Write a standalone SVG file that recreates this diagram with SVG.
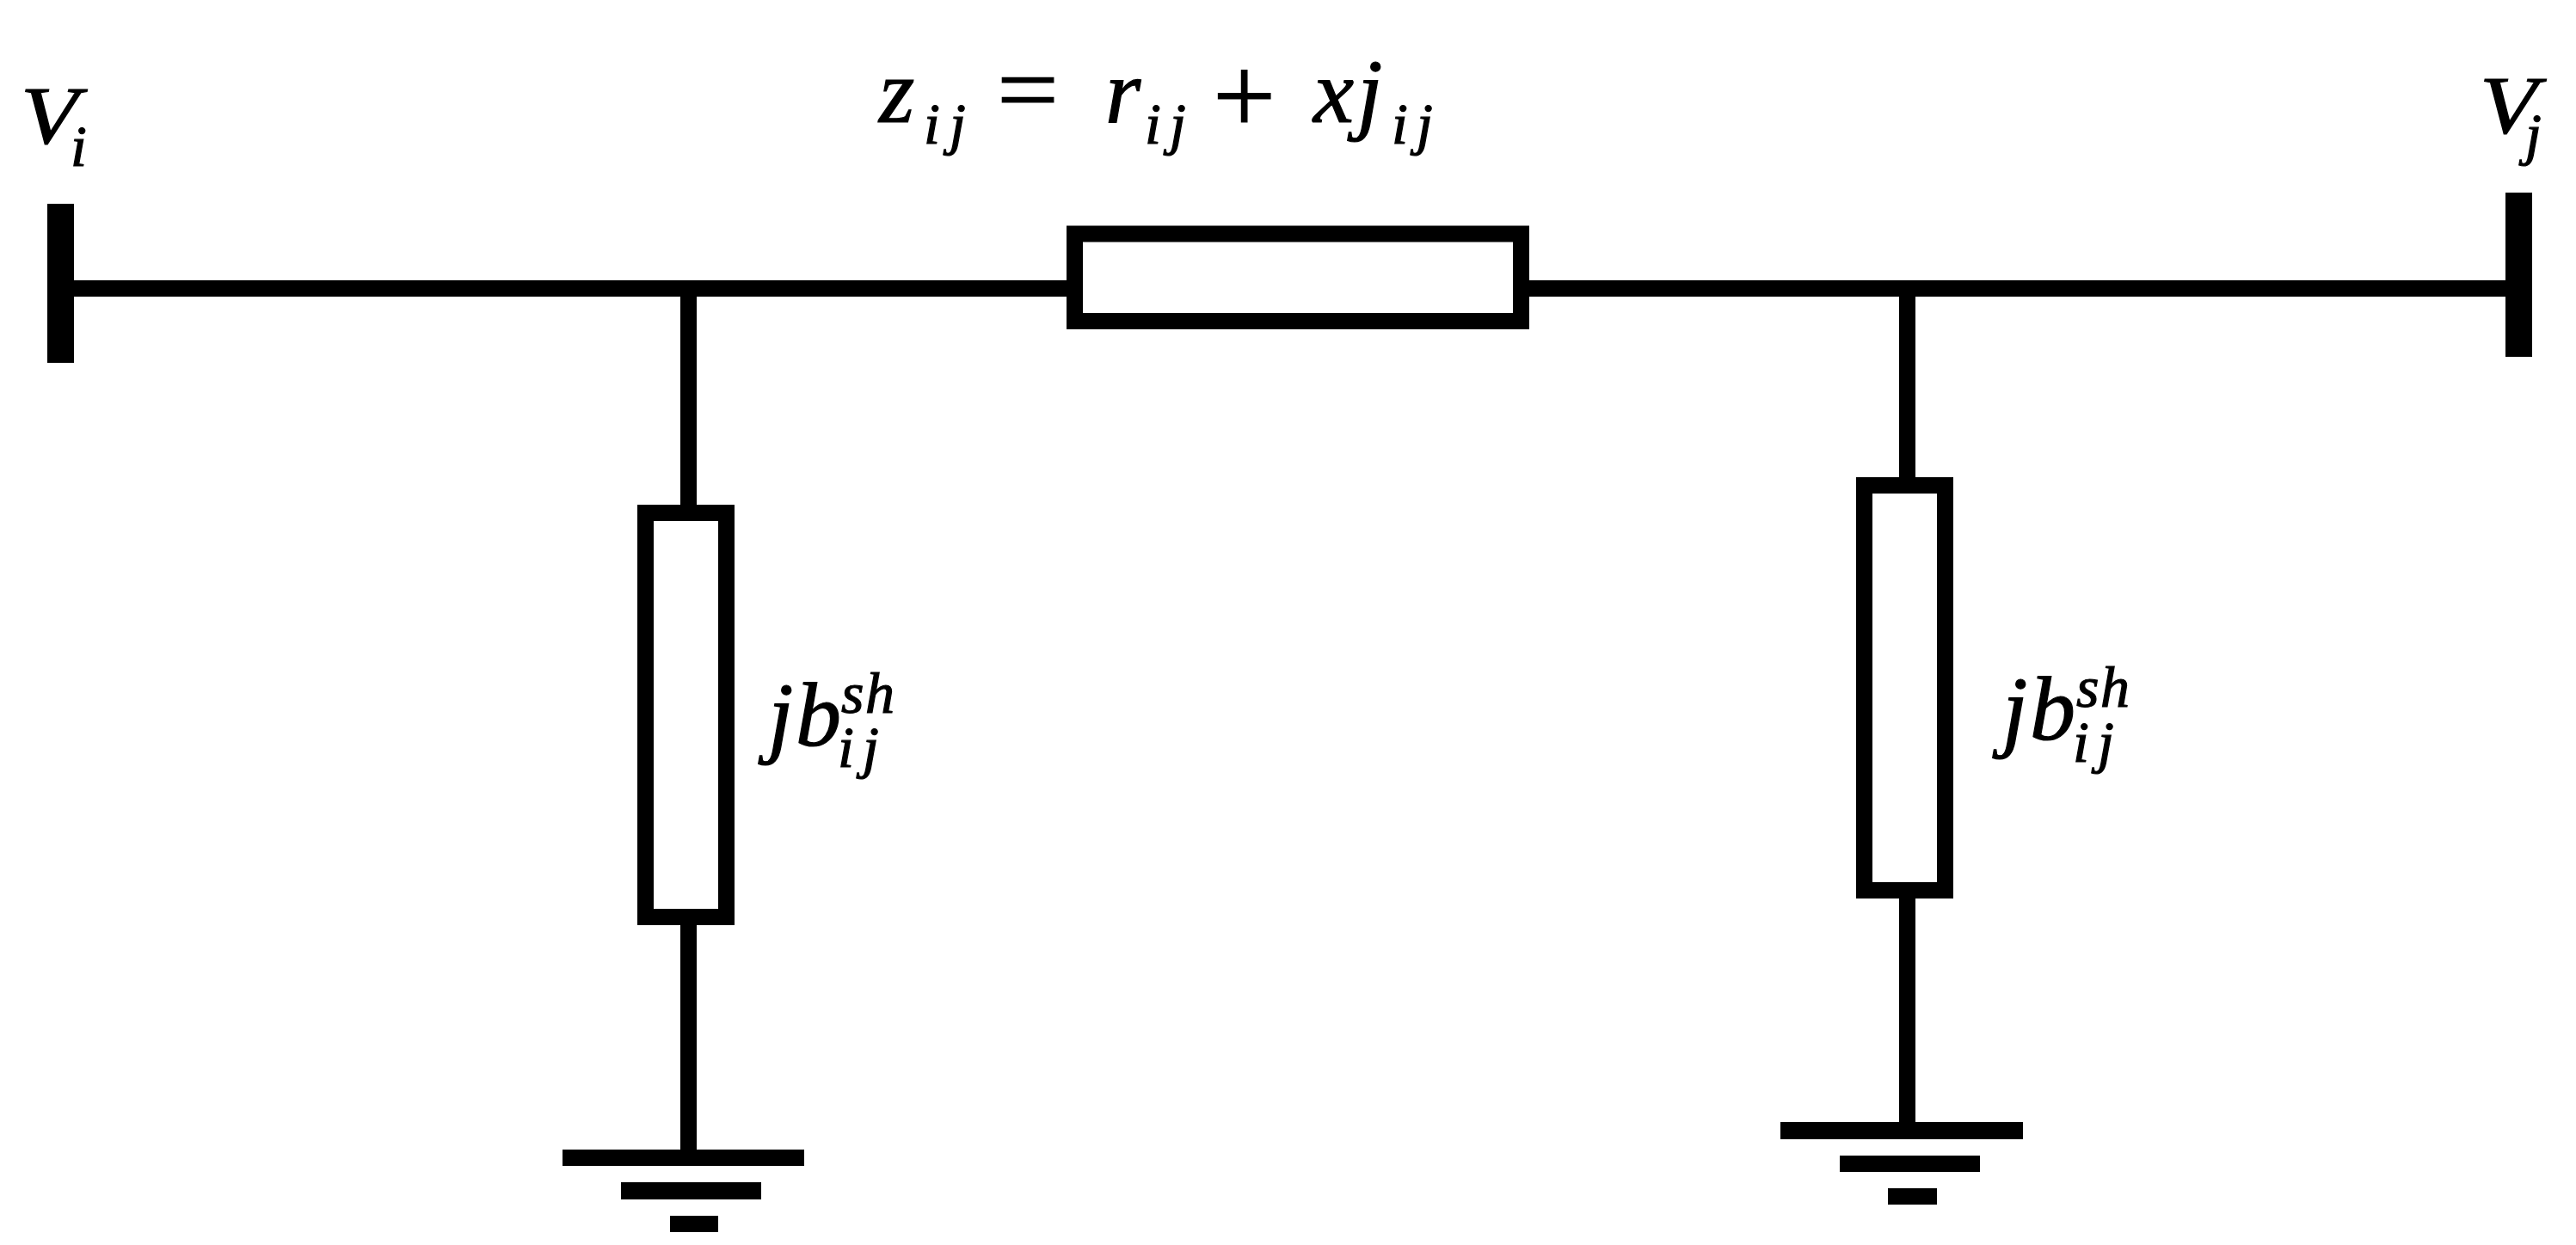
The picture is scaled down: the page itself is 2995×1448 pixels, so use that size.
<svg xmlns="http://www.w3.org/2000/svg" width="2995" height="1448" viewBox="0 0 2995 1448">
<style>
.bar{fill:#000}
.box{fill:#fff;stroke:#000;stroke-width:19}
.wire{stroke:#000;stroke-width:19;fill:none}
text{font-family:"Liberation Serif","Times New Roman",serif;fill:#000;stroke:#000;stroke-width:1.2px}
.v{font-style:italic;font-size:96px}
.m{font-style:italic;font-size:106px}
.s{font-style:italic;font-size:68px}
.eq{font-size:115px}
.pl{font-size:130px}
</style>
<rect width="2995" height="1448" fill="#fff"/>
<g id="connectors">
<line class="wire" x1="86" y1="335.500" x2="2913" y2="335.500"/>
<line class="wire" x1="800.500" y1="345" x2="800.500" y2="587"/>
<line class="wire" x1="800.500" y1="1076" x2="800.500" y2="1337"/>
<line class="wire" x1="2217.500" y1="345" x2="2217.500" y2="555"/>
<line class="wire" x1="2217.500" y1="1045" x2="2217.500" y2="1305"/>
</g>
<g id="bus-i">
<rect class="bar" x="55" y="237" width="31" height="185"/>
<text class="v" x="24" y="167" textLength="67" lengthAdjust="spacingAndGlyphs">V</text><text class="s" x="82" y="193">i</text>
</g>
<g id="bus-j">
<rect class="bar" x="2913" y="224" width="31" height="191"/>
<text class="v" x="2883" y="155" textLength="67" lengthAdjust="spacingAndGlyphs">V</text><text class="s" x="2936" y="179">j</text>
</g>
<g id="series-impedance">
<rect class="box" x="1249.500" y="272" width="519" height="101.500"/>
<text class="m" x="1022" y="142">z</text>
<text class="s" x="1074 1104" y="167">ij</text>
<text class="eq" x="1159" y="143" textLength="72" lengthAdjust="spacingAndGlyphs">=</text>
<text class="m" x="1285" y="142">r</text>
<text class="s" x="1331 1360" y="167">ij</text>
<text class="pl" x="1410" y="155">+</text>
<text class="m" x="1527 1578" y="142">xj</text>
<text class="s" x="1618 1647" y="167">ij</text>
</g>
<g id="shunt-i">
<rect class="box" x="750.500" y="596.500" width="94" height="470"/>
<text class="m" x="893 925" y="867">jb</text>
<text class="s" x="978 1006" y="829">sh</text>
<text class="s" x="974 1003" y="892">ij</text>
</g>
<g id="shunt-j">
<rect class="box" x="2167.500" y="564.500" width="94" height="471"/>
<text class="m" x="2328 2360" y="860">jb</text>
<text class="s" x="2414 2442" y="822">sh</text>
<text class="s" x="2410 2439" y="886">ij</text>
</g>
<g id="ground-i">
<rect class="bar" x="654" y="1337" width="281" height="19"/>
<rect class="bar" x="722" y="1375" width="163" height="20"/>
<rect class="bar" x="779" y="1414" width="56" height="19"/>
</g>
<g id="ground-j">
<rect class="bar" x="2070" y="1305" width="282" height="20"/>
<rect class="bar" x="2139" y="1344" width="163" height="19"/>
<rect class="bar" x="2195" y="1382" width="57" height="19"/>
</g>
</svg>
